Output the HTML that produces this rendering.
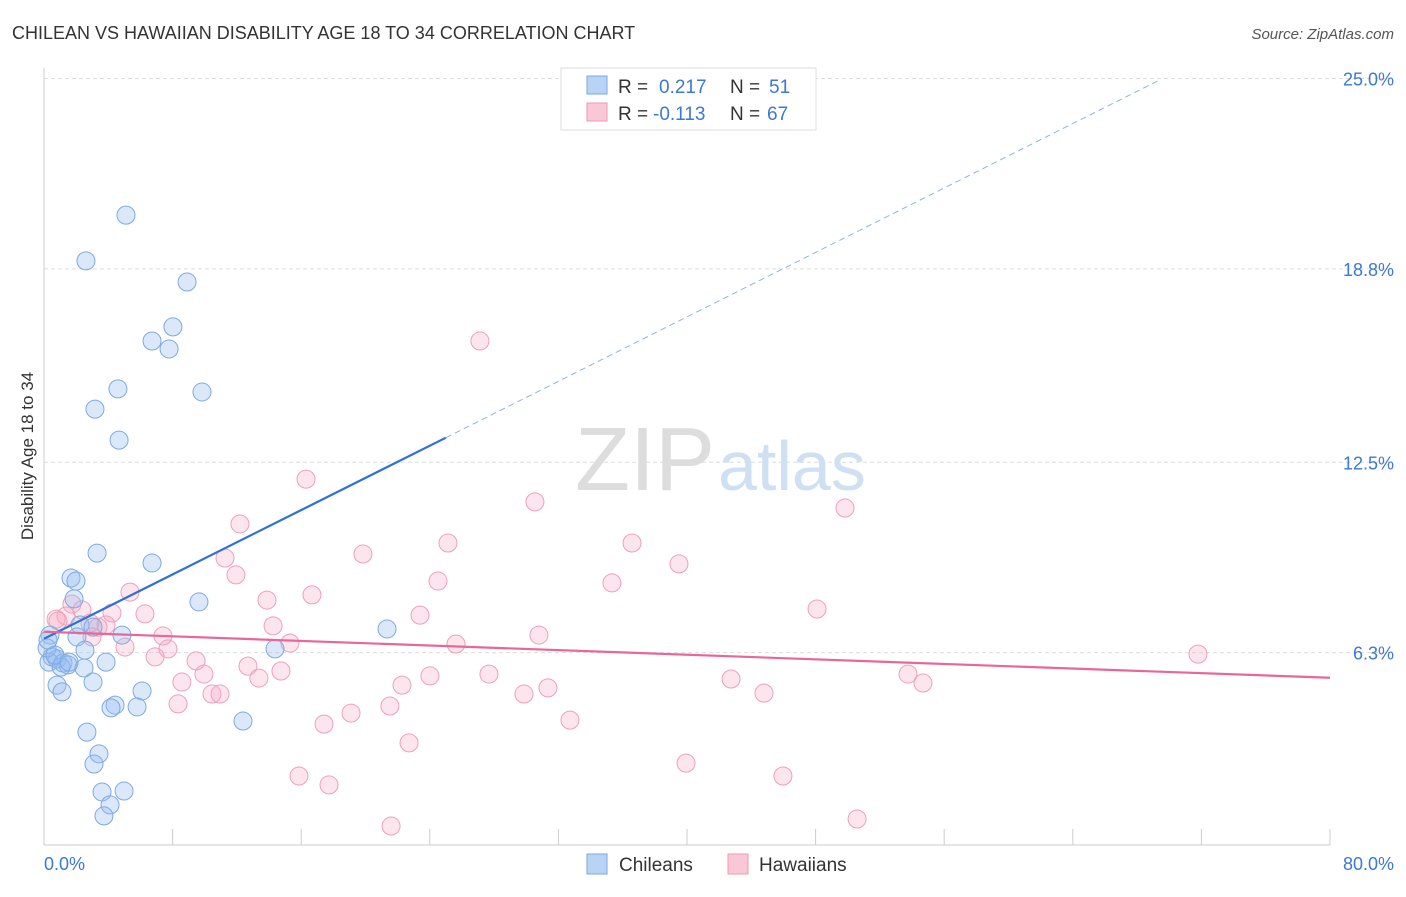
<!DOCTYPE html>
<html><head><meta charset="utf-8"><style>
body{margin:0;background:#fff;font-family:"Liberation Sans",sans-serif}
svg text{font-family:"Liberation Sans",sans-serif}
</style></head><body>
<svg width="1406" height="892" viewBox="0 0 1406 892">
<text x="12" y="39" font-size="18" fill="#333">CHILEAN VS HAWAIIAN DISABILITY AGE 18 TO 34 CORRELATION CHART</text>
<text x="1394" y="39" font-size="15" fill="#555" font-style="italic" text-anchor="end">Source: ZipAtlas.com</text>
<g id="grid"></g>
<line x1="44" y1="68" x2="44" y2="845" stroke="#ccc"/>
<line x1="44" y1="845" x2="1330" y2="845" stroke="#ccc"/>
<text x="715" y="490" font-size="90" fill="#ddd" text-anchor="end" font-family="Liberation Serif">ZIP</text>
<text x="718" y="490" font-size="70" fill="#cfe0f3">atlas</text>
<text transform="translate(33,456) rotate(-90)" font-size="17" fill="#333" text-anchor="middle">Disability Age 18 to 34</text>
<text x="44" y="870" font-size="18" fill="#3b78d8">0.0%</text>
<text x="1394" y="870" font-size="18" fill="#3b78d8" text-anchor="end">80.0%</text>
<g id="pts"></g>
<g id="lines"></g>
<g>
<rect x="561" y="68" width="255" height="62" fill="#fff" stroke="#ddd"/>
<rect x="587" y="76" width="20" height="18" fill="#b9d3f5" stroke="#7aa7e6"/>
<text x="618" y="93" font-size="19" fill="#333">R =</text>
<text x="659" y="93" font-size="19" fill="#3b78d8">0.217</text>
<text x="730" y="93" font-size="19" fill="#333">N =</text>
<text x="769" y="93" font-size="19" fill="#3b78d8">51</text>
<rect x="587" y="103" width="20" height="18" fill="#f8c8d6" stroke="#ee9ab4"/>
<text x="618" y="120" font-size="19" fill="#333">R =</text>
<text x="653" y="120" font-size="19" fill="#3b78d8">-0.113</text>
<text x="730" y="120" font-size="19" fill="#333">N =</text>
<text x="767" y="120" font-size="19" fill="#3b78d8">67</text>
</g>
<g>
<rect x="587" y="854" width="20" height="20" fill="#b9d3f5" stroke="#7aa7e6"/>
<text x="619" y="871" font-size="19" fill="#333">Chileans</text>
<rect x="728" y="854" width="20" height="20" fill="#f8c8d6" stroke="#ee9ab4"/>
<text x="759" y="871" font-size="19" fill="#333">Hawaiians</text>
</g>
</svg>
<script>
const yTicks=[6.3,12.5,18.8,25.0];
const yTickLabels=["6.3%","12.5%","18.8%","25.0%"];
const xTicks=[0,8,16,24,32,40,48,56,64,72,80];
const X=v=>44+v*1286/80, Y=v=>846-v*30.7;
const blueXpx=[126,86,187,173,152,169,118,202,95,119,97,152,71,76,74,199,80,387,93,122,77,50,85,275,52,57,49,63,68,61,84,106,93,57,142,62,115,111,137,243,87,99,94,102,124,110,104,47,55,69,48];
const blueYpx=[215,261,282,327,341,349,389,392,409,440,553,563,578,581,599,602,625,629,627,635,637,635,650,649,657,659,662,663,665,667,668,662,682,685,691,692,705,708,707,721,732,754,764,792,791,805,816,648,655,662,640];
const pinkXpx=[480,306,535,845,240,448,632,363,225,679,236,130,612,438,312,267,72,82,145,112,817,420,56,66,98,273,163,539,92,456,290,125,168,155,1198,196,248,281,204,430,489,259,182,908,923,731,402,548,524,212,220,764,178,390,351,324,570,409,686,299,783,329,391,857,58,90,106];
const pinkYpx=[341,479,502,508,524,543,543,554,558,564,575,592,583,581,595,600,604,610,614,613,609,615,619,616,627,626,636,635,637,644,643,647,649,657,654,661,666,671,674,676,674,678,682,674,683,679,685,688,694,694,694,693,704,706,713,724,720,743,763,776,776,785,826,819,621,623,625];
const blueX=blueXpx.map(p=>+((p-44)*80/1286).toFixed(2));
const blueY=blueYpx.map(p=>+((846-p)/30.7).toFixed(2));
const pinkX=pinkXpx.map(p=>+((p-44)*80/1286).toFixed(2));
const pinkY=pinkYpx.map(p=>+((846-p)/30.7).toFixed(2));
const blueLine=[0,6.75,25,13.3,69.4,24.95];
const pinkLine=[0,6.98,80,5.48];
const NS="http://www.w3.org/2000/svg";
function mk(t,a,p){const e=document.createElementNS(NS,t);for(const k in a)e.setAttribute(k,a[k]);p.appendChild(e);return e;}
const grid=document.getElementById('grid');
yTicks.forEach((v,i)=>{
 const l=mk('line',{x1:44,x2:1394,y1:Y(v),y2:Y(v),stroke:'#ddd','stroke-dasharray':'4,3'},grid);
 
 
 const t=mk('text',{x:1394,y:Y(v)+7,'font-size':18,fill:'#3b78d8','text-anchor':'end'},grid);
 t.textContent=yTickLabels[i];
 
 
});
xTicks.forEach(v=>{
 const l=mk('line',{x1:X(v),x2:X(v),y1:829,y2:845,stroke:'#ccc'},grid);
 
 
});
const pts=document.getElementById('pts');
pinkX.forEach((x,i)=>{
 const c=mk('circle',{cx:X(x),cy:Y(pinkY[i]),r:9,fill:'rgba(244,170,195,0.3)',stroke:'#eea0bb','stroke-width':1},pts);
 
 
});
blueX.forEach((x,i)=>{
 const c=mk('circle',{cx:X(x),cy:Y(blueY[i]),r:9,fill:'rgba(150,190,240,0.35)',stroke:'#7ea9e3','stroke-width':1},pts);
 
 
});
const lg=document.getElementById('lines');
let l=mk('line',{x1:X(blueLine[0]),y1:Y(blueLine[1]),x2:X(blueLine[2]),y2:Y(blueLine[3]),stroke:'#2f6fd6','stroke-width':2.2},lg);


l=mk('line',{x1:X(blueLine[2]),y1:Y(blueLine[3]),x2:X(blueLine[4]),y2:Y(blueLine[5]),stroke:'#8fb3e8','stroke-width':1,'stroke-dasharray':'6,4'},lg);


l=mk('line',{x1:X(pinkLine[0]),y1:Y(pinkLine[1]),x2:X(pinkLine[2]),y2:Y(pinkLine[3]),stroke:'#e8679a','stroke-width':2.2},lg);


</script>
</body></html>
